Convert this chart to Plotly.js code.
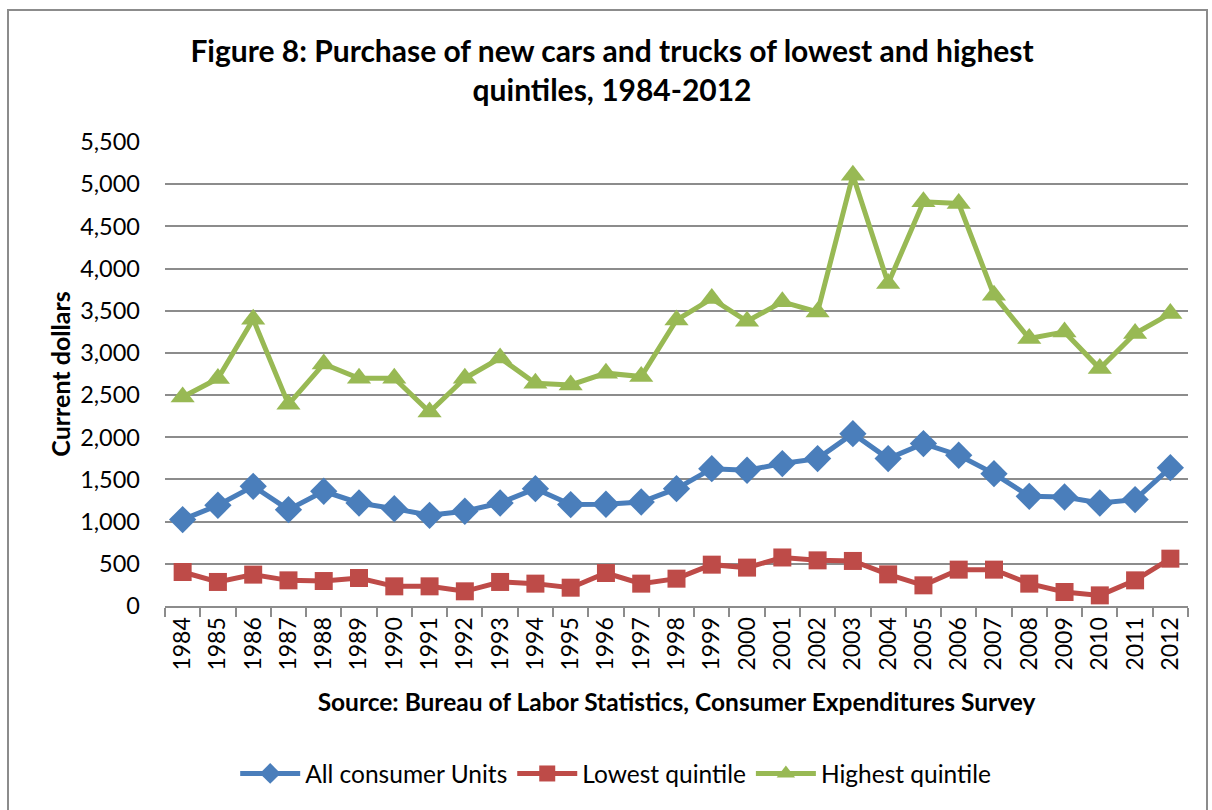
<!DOCTYPE html>
<html>
<head>
<meta charset="utf-8">
<script src="https://cdn.plot.ly/plotly-3.0.1.min.js"></script>
<style>
  body { margin: 0; background: #fff; }
  #chart { position: absolute; left: 0; top: 0; width: 1212px; height: 810px; }
  #frame { position: absolute; left: 7px; top: 9px; width: 1197px; height: 820px;
           border: 2px solid #8c8c8c; pointer-events: none; }
</style>
</head>
<body>
<div id="chart"></div>
<div id="frame"></div>
<script>
var years = ["1984", "1985", "1986", "1987", "1988", "1989", "1990", "1991", "1992", "1993",
             "1994", "1995", "1996", "1997", "1998", "1999", "2000", "2001", "2002", "2003",
             "2004", "2005", "2006", "2007", "2008", "2009", "2010", "2011", "2012"];

var allUnits = [1024, 1194, 1419, 1142, 1360, 1221, 1154, 1075, 1123, 1221,
                1391, 1202, 1206, 1233, 1391, 1628, 1609, 1688, 1747, 2043,
                1747, 1925, 1787, 1569, 1300, 1292, 1221, 1261, 1640];

var lowest = [403, 285, 372, 304, 296, 332, 233, 233, 174, 285,
              265, 217, 391, 265, 324, 490, 455, 575, 541, 534,
              375, 245, 431, 431, 265, 166, 126, 304, 561];

var highest = [2478, 2696, 3400, 2390, 2870, 2700, 2700, 2300, 2700, 2940,
               2640, 2620, 2760, 2720, 3390, 3644, 3375, 3605, 3486, 5107,
               3822, 4791, 4771, 3684, 3170, 3249, 2814, 3229, 3466];

var yTicks = [0, 500, 1000, 1500, 2000, 2500, 3000, 3500, 4000, 4500, 5000, 5500];
var yTickText = ["0", "500", "1,000", "1,500", "2,000", "2,500", "3,000", "3,500",
                 "4,000", "4,500", "5,000", "5,500"];

var font = "Lato, 'Open Sans', sans-serif";

var trace1 = {
  x: years,
  y: allUnits,
  name: "All consumer Units",
  mode: "lines+markers",
  line: {color: "#4a7ebb", width: 5},
  marker: {symbol: "diamond", size: 21, color: "#4a7ebb"},
  type: "scatter"
};

var trace2 = {
  x: years,
  y: lowest,
  name: "Lowest quintile",
  mode: "lines+markers",
  line: {color: "#be4b48", width: 5},
  marker: {symbol: "square", size: 18, color: "#be4b48"},
  type: "scatter"
};

var trace3 = {
  x: years,
  y: highest,
  name: "Highest quintile",
  mode: "lines+markers",
  line: {color: "#98b954", width: 5},
  marker: {symbol: "triangle-up", size: 21, color: "#98b954"},
  type: "scatter"
};

var layout = {
  width: 1212,
  height: 810,
  margin: {l: 165, r: 24, t: 142, b: 204},
  paper_bgcolor: "rgba(0,0,0,0)",
  plot_bgcolor: "#fff",
  font: {family: font, size: 24, color: "#000"},
  title: {
    text: "<b>Figure 8: Purchase of new cars and trucks of lowest and highest<br>quintiles, 1984-2012</b>",
    font: {family: font, size: 30, color: "#000"},
    x: 0.505,
    xref: "container",
    y: 0.923,
    yref: "container",
    yanchor: "top"
  },
  xaxis: {
    type: "category",
    range: [-0.5, 28.5],
    tickangle: -90,
    ticks: "outside",
    tickson: "boundaries",
    ticklen: 9,
    tickwidth: 2,
    tickcolor: "#8c8c8c",
    showgrid: false,
    showline: true,
    linecolor: "#8c8c8c",
    linewidth: 2,
    zeroline: false,
    tickfont: {family: font, size: 23},
    title: {
      text: "<b>Source: Bureau of Labor Statistics, Consumer Expenditures Survey</b>",
      font: {family: font, size: 24.5},
      standoff: 24
    }
  },
  yaxis: {
    range: [0, 5500],
    tickvals: yTicks,
    ticktext: yTickText,
    showgrid: true,
    gridcolor: "#8c8c8c",
    gridwidth: 2,
    showline: false,
    zeroline: false,
    ticks: "",
    ticklabelstandoff: 24,
    tickfont: {family: font, size: 23.5},
    title: {
      text: "<b>Current dollars</b>",
      font: {family: font, size: 25},
      standoff: 2
    }
  },
  legend: {
    orientation: "h",
    x: 0.508,
    xref: "container",
    xanchor: "center",
    y: 0.045,
    yref: "container",
    yanchor: "middle",
    font: {family: font, size: 24.5},
    itemwidth: 60,
    traceorder: "normal"
  },
  showlegend: true
};

Plotly.newPlot("chart", [trace1, trace2, trace3], layout, {displayModeBar: false});
</script>
</body>
</html>
